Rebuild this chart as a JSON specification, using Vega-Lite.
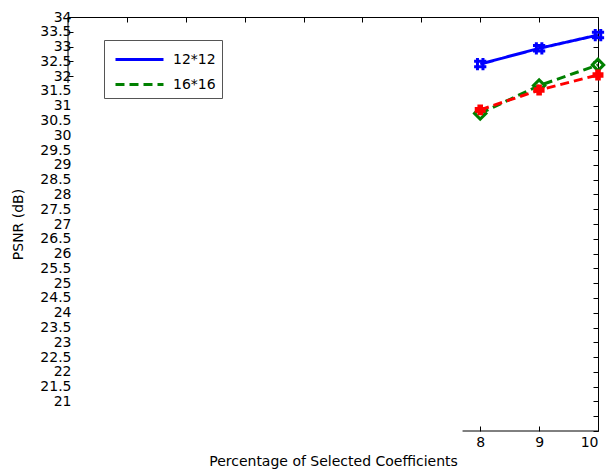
{
  "$schema": "https://vega.github.io/schema/vega-lite/v6.json",
  "width": 530,
  "height": 414,
  "autosize": {"type": "none"},
  "padding": {"left": 68, "top": 17, "right": 9, "bottom": 40},
  "background": "white",
  "config": {
    "view": {"stroke": null},
    "font": "DejaVu Sans",
    "axis": {
      "grid": false,
      "domainColor": "black",
      "tickColor": "black",
      "labelColor": "black",
      "titleColor": "black",
      "tickSize": -5,
      "labelFont": "DejaVu Sans",
      "labelFontSize": 14,
      "titleFont": "DejaVu Sans",
      "titleFontSize": 14,
      "titleFontWeight": "normal"
    }
  },
  "data": {
    "values": [
      {"block": "12*12", "pct": 8, "psnr": 32.41},
      {"block": "12*12", "pct": 9, "psnr": 32.94},
      {"block": "12*12", "pct": 10, "psnr": 33.39},
      {"block": "16*16", "pct": 8, "psnr": 30.74},
      {"block": "16*16", "pct": 9, "psnr": 31.68},
      {"block": "16*16", "pct": 10, "psnr": 32.38},
      {"block": "20*20", "pct": 8, "psnr": 30.86},
      {"block": "20*20", "pct": 9, "psnr": 31.53},
      {"block": "20*20", "pct": 10, "psnr": 32.04}
    ]
  },
  "layer": [
    {
      "mark": {"type": "line", "strokeWidth": 3},
      "encoding": {
        "x": {
          "field": "pct",
          "type": "quantitative",
          "scale": {"domain": [1, 10], "nice": false, "zero": false},
          "axis": {
            "orient": "bottom",
            "values": [1, 2, 3, 4, 5, 6, 7, 8, 9, 10],
            "domain": false,
            "labelExpr": "datum.value >= 8 ? datum.label : ''",
            "tickOpacity": {"condition": {"test": "datum.value >= 8", "value": 1}, "value": 0},
            "labelPadding": 9,
            "titlePadding": 5,
            "title": "Percentage of Selected Coefficients"
          }
        },
        "y": {
          "field": "psnr",
          "type": "quantitative",
          "scale": {"domain": [20, 34], "nice": false, "zero": false},
          "axis": {
            "orient": "left",
            "values": [20, 20.5, 21, 21.5, 22, 22.5, 23, 23.5, 24, 24.5, 25, 25.5, 26, 26.5, 27, 27.5, 28, 28.5, 29, 29.5, 30, 30.5, 31, 31.5, 32, 32.5, 33, 33.5, 34],
            "domain": false,
            "labelOverlap": false,
            "labelExpr": "datum.value <= 20.5 ? '' : format(datum.value, '~g')",
            "tickOpacity": {"condition": {"test": "datum.value >= 32", "value": 1}, "value": 0},
            "labelPadding": 2,
            "titlePadding": 14,
            "title": "PSNR (dB)"
          }
        },
        "stroke": {
          "field": "block",
          "type": "nominal",
          "scale": {"domain": ["12*12", "16*16", "20*20"], "range": ["#0000ff", "#008000", "#ff0000"]},
          "legend": {
            "orient": "none",
            "legendX": 36,
            "legendY": 23,
            "title": null,
            "values": ["12*12", "16*16"],
            "fillColor": "white",
            "strokeColor": "#555555",
            "padding": 6,
            "symbolType": "M-0.667,0H3.333",
            "symbolSize": 576,
            "symbolStrokeWidth": 3,
            "labelOffset": 36,
            "labelFont": "DejaVu Sans",
            "labelFontSize": 14,
            "labelColor": "black",
            "rowPadding": 4
          }
        },
        "strokeDash": {
          "field": "block",
          "type": "nominal",
          "scale": {"domain": ["12*12", "16*16", "20*20"], "range": [[1, 0], [9, 5], [9, 5]]},
          "legend": {
            "orient": "none",
            "legendX": 36,
            "legendY": 23,
            "title": null,
            "values": ["12*12", "16*16"],
            "fillColor": "white",
            "strokeColor": "#555555",
            "padding": 6,
            "symbolType": "M-0.667,0H3.333",
            "symbolSize": 576,
            "symbolStrokeWidth": 3,
            "labelOffset": 36,
            "labelFont": "DejaVu Sans",
            "labelFontSize": 14,
            "labelColor": "black",
            "rowPadding": 4
          }
        }
      }
    },
    {
      "transform": [{"filter": "datum.block === '12*12'"}],
      "mark": {"type": "point", "filled": false, "strokeWidth": 3, "size": 150, "opacity": 1, "color": "#0000ff", "shape": "M-1,-0.45H1M-1,0.45H1M-0.45,-1V1M0.45,-1V1"},
      "encoding": {
        "x": {"field": "pct", "type": "quantitative", "axis": null},
        "y": {"field": "psnr", "type": "quantitative", "axis": null}
      }
    },
    {
      "transform": [{"filter": "datum.block === '16*16'"}],
      "mark": {"type": "point", "filled": false, "strokeWidth": 3, "size": 130, "opacity": 1, "color": "#008000", "shape": "diamond"},
      "encoding": {
        "x": {"field": "pct", "type": "quantitative", "axis": null},
        "y": {"field": "psnr", "type": "quantitative", "axis": null}
      }
    },
    {
      "transform": [{"filter": "datum.block === '20*20'"}],
      "mark": {"type": "point", "filled": true, "strokeWidth": 2, "stroke": "#ff0000", "size": 80, "opacity": 1, "color": "#ff0000", "shape": "cross"},
      "encoding": {
        "x": {"field": "pct", "type": "quantitative", "axis": null},
        "y": {"field": "psnr", "type": "quantitative", "axis": null}
      }
    },
    {
      "data": {"values": [{}]},
      "mark": {"type": "point", "opacity": 0},
      "encoding": {
        "x": {
          "datum": 5,
          "type": "quantitative",
          "axis": {"orient": "top", "values": [1, 2, 3, 4, 5, 6, 7, 8, 9, 10], "labels": false, "title": null, "domain": true}
        },
        "y": {
          "datum": 30,
          "type": "quantitative",
          "axis": {"orient": "right", "values": [20, 20.5, 21, 21.5, 22, 22.5, 23, 23.5, 24, 24.5, 25, 25.5, 26, 26.5, 27, 27.5, 28, 28.5, 29, 29.5, 30, 30.5, 31, 31.5, 32, 32.5, 33, 33.5, 34], "labels": false, "title": null, "domain": true}
        }
      }
    },
    {
      "data": {"values": [{}]},
      "mark": {"type": "rule", "color": "black", "strokeWidth": 1},
      "encoding": {
        "x": {"datum": 7.7, "type": "quantitative", "axis": null},
        "x2": {"datum": 10},
        "y": {"datum": 20, "type": "quantitative", "axis": null}
      }
    },
    {
      "data": {"values": [{}]},
      "mark": {"type": "rule", "color": "black", "strokeWidth": 1},
      "encoding": {
        "x": {"datum": 1, "type": "quantitative", "axis": null},
        "y": {"datum": 31.77, "type": "quantitative", "axis": null},
        "y2": {"datum": 34}
      }
    }
  ],
  "resolve": {"axis": {"x": "independent", "y": "independent"}}
}
